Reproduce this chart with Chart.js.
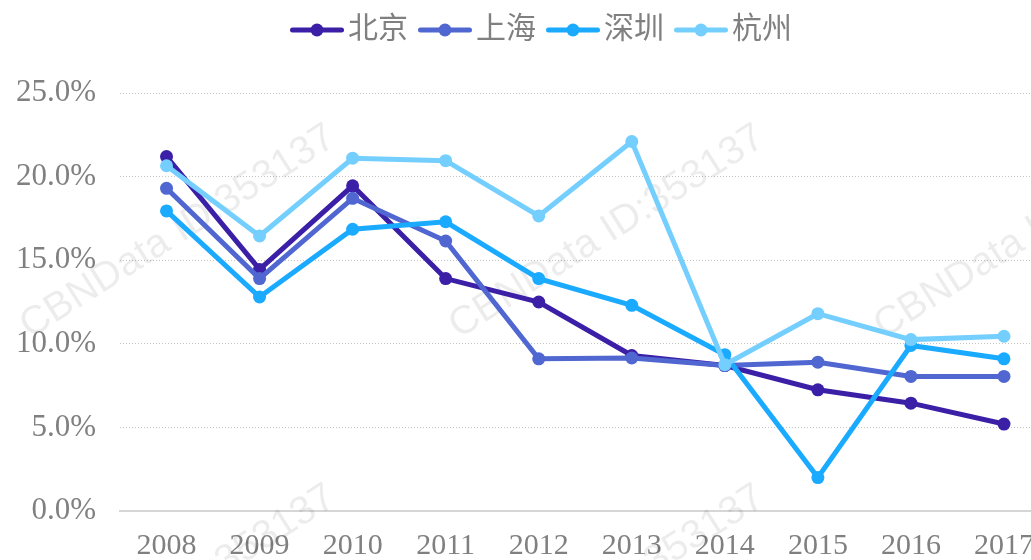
<!DOCTYPE html>
<html>
<head>
<meta charset="utf-8">
<script src="https://cdn.jsdelivr.net/npm/chart.js@4/dist/chart.umd.min.js"></script>
<style>
  html, body { margin: 0; padding: 0; background: #fff; overflow: hidden; }
  #wrap { position: relative; width: 1031px; height: 560px; overflow: hidden; }
  #chart { position: absolute; left: 0; top: 0; }
</style>
</head>
<body>
<div id="wrap"><canvas id="chart" width="1087" height="560"></canvas></div>
<script>
const years = ['2008', '2009', '2010', '2011', '2012', '2013', '2014', '2015', '2016', '2017'];
const seriesNames = ['北京', '上海', '深圳', '杭州'];
const beijing = [21.2, 14.45, 19.45, 13.9, 12.5, 9.3, 8.7, 7.25, 6.45, 5.2];
const shanghai = [19.3, 13.9, 18.7, 16.15, 9.1, 9.15, 8.7, 8.9, 8.05, 8.05];
const shenzhen = [17.95, 12.8, 16.85, 17.3, 13.9, 12.3, 9.35, 2.0, 9.9, 9.1];
const hangzhou = [20.65, 16.45, 21.1, 20.95, 17.65, 22.1, 8.75, 11.8, 10.25, 10.45];
const yTicks = [0, 5, 10, 15, 20, 25];

const colors = ['#3b1fa7', '#5066d0', '#1aaaff', '#74cfff'];
const textGrey = '#808080';
const serif = "'Liberation Serif', 'Noto Sans CJK SC', serif";

// legend marker: short thick line with a dot in the middle
function legendMark(color) {
  const c = document.createElement('canvas');
  c.width = 60;
  c.height = 16;
  const g = c.getContext('2d');
  g.strokeStyle = color;
  g.lineWidth = 5;
  g.lineCap = 'round';
  g.beginPath();
  g.moveTo(8.5, 8);
  g.lineTo(57.5, 8);
  g.stroke();
  g.fillStyle = color;
  g.beginPath();
  g.arc(33, 8, 6.5, 0, Math.PI * 2);
  g.fill();
  return c;
}
const marks = colors.map(legendMark);

// keep a tall gap under the legend before the plot starts
const legendGap = {
  id: 'legendGap',
  afterInit(chart) {
    const lg = chart.legend;
    if (!lg) return;
    const fit0 = lg.fit;
    lg.fit = function () {
      fit0.call(this);
      this.height = 93;
    };
  }
};

// faint diagonal watermark text behind the lines
const watermark = {
  id: 'watermark',
  beforeDatasetsDraw(chart) {
    const ctx = chart.ctx;
    const spots = [[178, 232], [607, 232], [1032, 232], [178, 592], [607, 592], [1032, 592]];
    ctx.save();
    ctx.font = "40px 'Liberation Sans', sans-serif";
    ctx.fillStyle = 'rgba(0, 0, 0, 0.075)';
    ctx.textAlign = 'center';
    ctx.textBaseline = 'middle';
    spots.forEach(([x, y]) => {
      ctx.save();
      ctx.translate(x, y);
      ctx.rotate(-32.4 * Math.PI / 180);
      ctx.fillText('CBNData ID:353137', 0, 0);
      ctx.restore();
    });
    ctx.restore();
  }
};

const allSeries = [beijing, shanghai, shenzhen, hangzhou];

new Chart(document.getElementById('chart'), {
  type: 'line',
  data: {
    labels: years,
    datasets: allSeries.map((vals, i) => ({
      label: seriesNames[i],
      data: vals,
      borderColor: colors[i],
      backgroundColor: colors[i],
      borderWidth: 5,
      pointRadius: 6.5,
      pointHoverRadius: 6.5,
      pointBorderWidth: 0,
      tension: 0,
      order: 4 - i // later cities drawn on top
    }))
  },
  options: {
    responsive: false,
    animation: false,
    events: [],
    plugins: {
      tooltip: { enabled: false },
      legend: {
        position: 'top',
        labels: {
          usePointStyle: true,
          pointStyleWidth: 38,
          padding: 15,
          color: textGrey,
          font: { family: serif, size: 30 },
          generateLabels(chart) {
            const items = Chart.defaults.plugins.legend.labels.generateLabels(chart);
            items.forEach(it => { it.pointStyle = marks[it.datasetIndex]; });
            return items;
          },
          sort: (a, b) => a.datasetIndex - b.datasetIndex
        }
      }
    },
    scales: {
      x: {
        offset: true,
        grid: { display: false, drawTicks: false },
        border: { display: true, color: '#d6d6d6', width: 2 },
        ticks: {
          color: textGrey,
          font: { family: serif, size: 30 },
          padding: 17,
          maxRotation: 0,
          autoSkip: false
        },
        afterFit(s) {
          s.height = 49;
          s.paddingLeft = 0;
          s.paddingRight = 36.5;
        }
      },
      y: {
        min: 0,
        max: 25,
        afterBuildTicks(s) {
          s.ticks = yTicks.map(v => ({ value: v }));
        },
        grid: {
          drawTicks: false,
          lineWidth: 1,
          color: c => (c.tick && c.tick.value === 0 ? 'rgba(0,0,0,0)' : '#c4c4c4')
        },
        border: { display: false, dash: [1, 2] },
        ticks: {
          color: textGrey,
          font: { family: serif, size: 31 },
          padding: 24,
          callback: v => v.toFixed(1) + '%'
        },
        afterFit(s) {
          s.width = 120;
        }
      }
    }
  },
  plugins: [legendGap, watermark]
});
</script>
</body>
</html>
